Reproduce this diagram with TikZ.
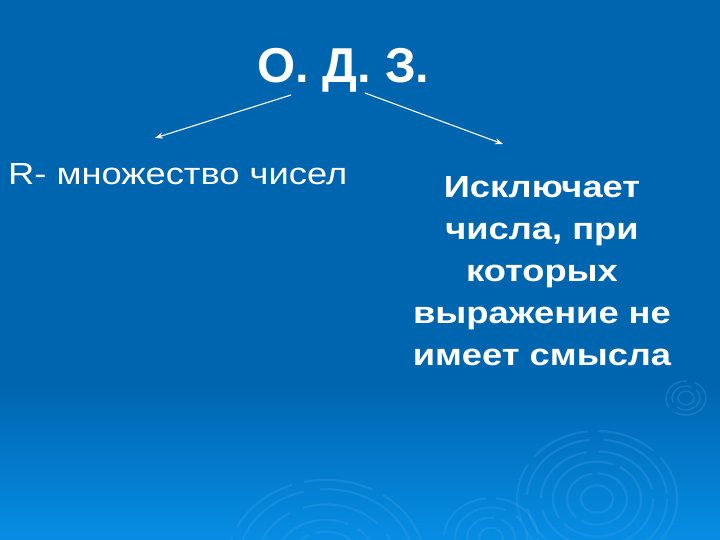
\documentclass[tikz,border=0pt]{standalone}
\usepackage{fontspec}
\usetikzlibrary{arrows.meta}
\setmainfont{Liberation Sans}
\newfontfamily\widefont[FakeStretch=1.19]{Liberation Sans}
\begin{document}
\begin{tikzpicture}[x=1pt,y=-1pt,
  ttl/.style={text=white,font=\fontsize{49}{56}\selectfont\bfseries,inner sep=0pt,anchor=base},
  lefttxt/.style={text=white,font=\widefont\fontsize{30.5}{36}\selectfont,inner sep=0pt,anchor=base west},
  righttxt/.style={text=white,font=\widefont\fontsize{30.5}{42}\selectfont\bfseries,inner sep=0pt,align=center,anchor=base},
  arr/.style={white,line width=1.1pt,-{Stealth[length=8pt,width=6pt]}},
  ring/.style={draw={rgb,255:red,60;green,160;blue,235},opacity=0.3,line width=2.2pt}]
\useasboundingbox (0,0) rectangle (720,540);
\fill[color={rgb,255:red,0;green,101;blue,175}] (0,0) rectangle (720,385);
\shade[top color={rgb,255:red,0;green,101;blue,175},bottom color={rgb,255:red,6;green,142;blue,228}] (0,384) rectangle (720,540);
% ripples
\begin{scope}
\clip (0,0) rectangle (720,540);
\foreach \r/\a/\b in {20/40/8,14/30/6,8/50/1}
  \draw[ring,line width=1.6pt,dash pattern=on \a pt off \b pt] (686,398) ellipse ({\r} and {0.85*\r});
\foreach \r/\a/\b in {80/60/10,70/90/14,56/70/12,44/100/8,30/60/6,16/100/1}
  \draw[ring,dash pattern=on \a pt off \b pt] (597,499) ellipse ({\r} and {0.85*\r});
\foreach \r/\a/\b in {47/60/10,36/80/12,24/50/8,12/80/1}
  \draw[ring,dash pattern=on \a pt off \b pt] (491,538) ellipse ({\r} and {0.85*\r});
\foreach \r/\a/\b in {99/70/12,88/110/16,70/80/14,52/120/10,38/70/8,24/100/1}
  \draw[ring,dash pattern=on \a pt off \b pt] (326,564) ellipse ({\r} and {0.85*\r});
\end{scope}
% texts
\node[ttl] (t) at (343.5,83) {О. Д. З.};
\node[lefttxt] (l) at (8,185) {R- множество чисел};
\node[righttxt] (r) at (542,365) {Исключает\\числа, при\\которых\\выражение не\\имеет смысла};
\coordinate (a1) at (291,95);
\coordinate (a2) at (365,93);
\coordinate (e1) at (155,138);
\coordinate (e2) at (503,144);
\draw[arr] (a1) -- (e1);
\draw[arr] (a2) -- (e2);
\end{tikzpicture}
\end{document}
